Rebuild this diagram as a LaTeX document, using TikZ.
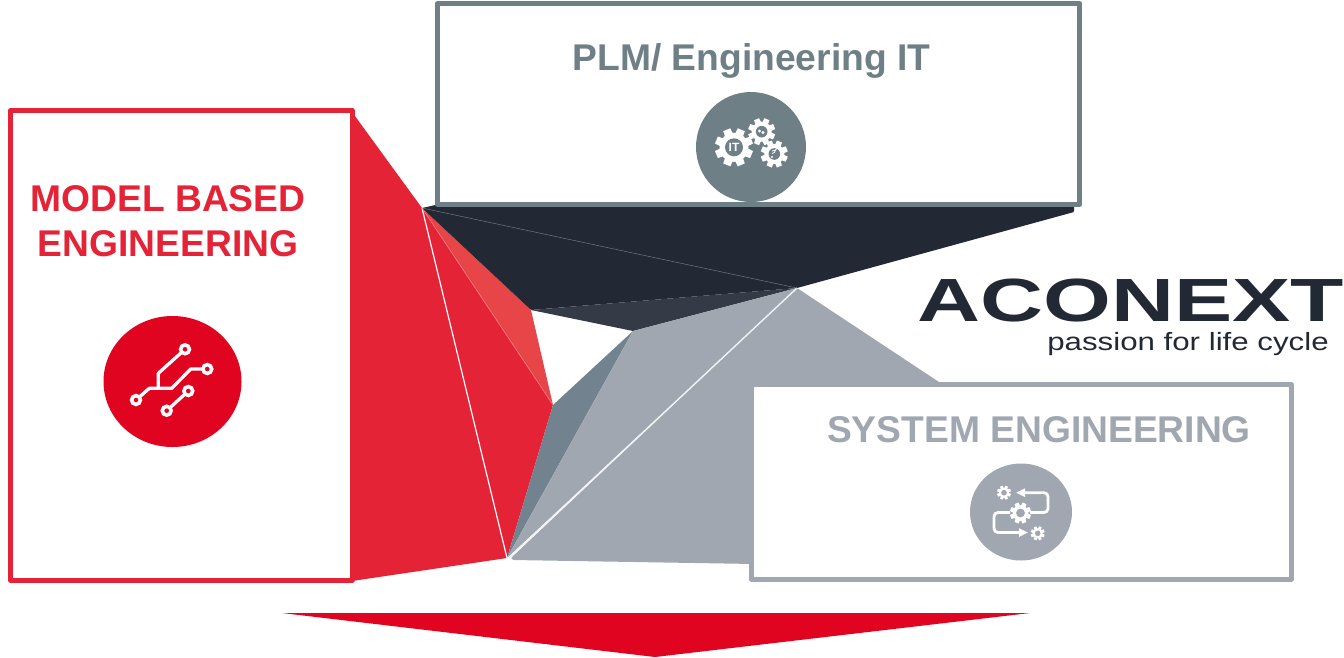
\documentclass[tikz,border=0pt]{standalone}
\usepackage{graphicx}
\usepackage{fontspec}
\setmainfont{Liberation Sans}
\usetikzlibrary{arrows.meta}
\definecolor{mbred}{HTML}{E42337}
\definecolor{mbredlight}{HTML}{E84548}
\definecolor{iconred}{HTML}{E00420}
\definecolor{slate}{HTML}{6F7F86}
\definecolor{bluegrey}{HTML}{72838F}
\definecolor{sysgrey}{HTML}{A0A7B1}
\definecolor{navy}{HTML}{222934}
\definecolor{navylight}{HTML}{343A46}
\tikzset{
  framebox/.style={draw=#1,line width=5pt,fill=white,line join=round},
  title/.style={font=\bfseries\fontsize{#1}{#1}\selectfont,inner sep=0pt,align=center},
  wire/.style={draw=white,line width=3.3pt,line join=round},
  pad/.style={draw=white,line width=3.6pt,fill=iconred},
  seam/.style={draw=white,line width=1.2pt},
  flow/.style={draw=white,line width=2.8pt,rounded corners=4pt}
}
% x, y, outer radius, body radius, hole radius, hole colour, teeth
\newcommand{\agear}[7]{%
  \begin{scope}[shift={(#1,#2)}]
    \foreach \tooth in {1,...,#7}{
      \fill[white,rotate=\tooth*360/#7+22.5] (-#3*0.26,0) -- (-#3*0.2,#3) -- (#3*0.2,#3) -- (#3*0.26,0) -- cycle;
    }
    \fill[white] (0,0) circle (#4);
    \fill[#6] (0,0) circle (#5);
  \end{scope}}
\begin{document}
\begin{tikzpicture}[x=1pt,y=-1pt]
\useasboundingbox (0,0) rectangle (1344,657);
% facets
\coordinate (A) at (422,208);
\coordinate (B) at (507,558);
\coordinate (C) at (553,405);
\coordinate (D) at (797,288);
\coordinate (E) at (531,310);
\coordinate (F) at (633,331);
\fill[mbred] (352,112) -- (A) -- (B) -- (352,581) -- cycle;
\fill[mbred] (A) -- (C) -- (B) -- cycle;
\fill[mbredlight] (A) -- (E) -- (C) -- cycle;
\fill[navy,rounded corners=1pt] (A) -- (440,204) -- (1074,204) -- (1074,212) -- (D) -- (E) -- cycle;
\fill[navylight] (E) -- (D) -- (F) -- cycle;
\fill[bluegrey] (C) -- (F) -- (B) -- cycle;
\fill[sysgrey] (F) -- (D) -- (B) -- cycle;
\fill[sysgrey,rounded corners=1pt] (D) -- (945,386) -- (755,564) -- (513,560) -- (511,558) -- cycle;
\draw[seam] (A) -- (B);
\draw[seam,draw=white!85!sysgrey,line width=1.4pt] (D) -- (509,558);
\draw[draw=navylight!70!white,line width=0.5pt] (A) -- (D);
\draw[draw=mbredlight!70!white,line width=0.6pt] (A) -- (C);
% boxes
\draw[framebox=slate] (437.5,3.5) rectangle (1079.5,204.5);
\draw[framebox=mbred] (10.5,110.5) rectangle (352,580);
\draw[framebox=sysgrey] (751.5,384.5) rectangle (1291.5,579);
% arrow
\fill[iconred] (282,613) -- (1030,613) -- (655,657) -- cycle;
% titles
\node[title=37.2,text=slate] (plmtitle) at (751.5,61) {PLM/ Engineering IT};
\node[title=37.2,text=mbred] (mbtitle) at (168,221) {MODEL BASED\\[8pt]ENGINEERING};
\node[title=37.2,text=sysgrey] (systitle) at (1039,429.5) {SYSTEM ENGINEERING};
% logo
\node[inner sep=0pt,text=navy,font=\bfseries\fontsize{61}{61}\selectfont] (logo) at (1131,300) {\scalebox{1.43}[1]{ACONEXT}};
\node[inner sep=0pt,text=navy,font=\fontsize{25}{25}\selectfont] (tagline) at (1188,344) {\scalebox{1.25}[1]{passion for life cycle}};
% model based icon
\fill[iconred] (172.5,381.5) ellipse [x radius=69,y radius=65.5];
\draw[wire] (136,400) -- (149.3,388.3) -- (171.7,388.3) -- (190.7,369) -- (207.3,369);
\draw[wire] (158.3,388.3) -- (158.3,373.3) -- (185,349.3);
\draw[wire] (188.3,391) -- (166.7,410.7);
\foreach \px/\py [count=\i] in {185/349.3,207.3/369,136/400,188.3/391,166.7/410.7}{
  \draw[pad] (\px,\py) circle (4.4);
}
% plm icon
\fill[slate] (751,147) circle (55);
\agear{734}{147.3}{19}{14.5}{9}{slate}{8}
\agear{761.7}{131.7}{13.5}{10}{5.8}{slate}{8}
\agear{774.3}{154}{13.5}{10}{5.8}{slate}{8}
\node[inner sep=0pt,text=white,font=\bfseries\fontsize{12}{12}\selectfont] (ittext) at (734,147.3) {IT};
\fill[white] (759.5,131) circle (1.6) (763,132.5) circle (1.6);
\fill[white] (772,157) circle (1.1);
\draw[white,line width=0.8pt] (772,153.5) arc (90:0:3.5) (772,151) arc (90:0:6);
% system icon
\fill[sysgrey] (1021,512) ellipse [x radius=51,y radius=48.5];
\draw[flow,-{Triangle[length=9pt,width=8pt]}] (1030,512.5) -- (1048,512.5) -- (1048,492.7) -- (1016,492.7);
\draw[flow,-{Triangle[length=9pt,width=8pt]}] (1010,512.5) -- (994,512.5) -- (994,532.5) -- (1028,532.5);
\agear{1004}{492.7}{7}{5}{2.8}{sysgrey}{8}
\agear{1020.5}{513}{10.5}{7.8}{4.4}{sysgrey}{8}
\agear{1037.7}{533.3}{7}{5}{2.8}{sysgrey}{8}
\end{tikzpicture}
\end{document}
